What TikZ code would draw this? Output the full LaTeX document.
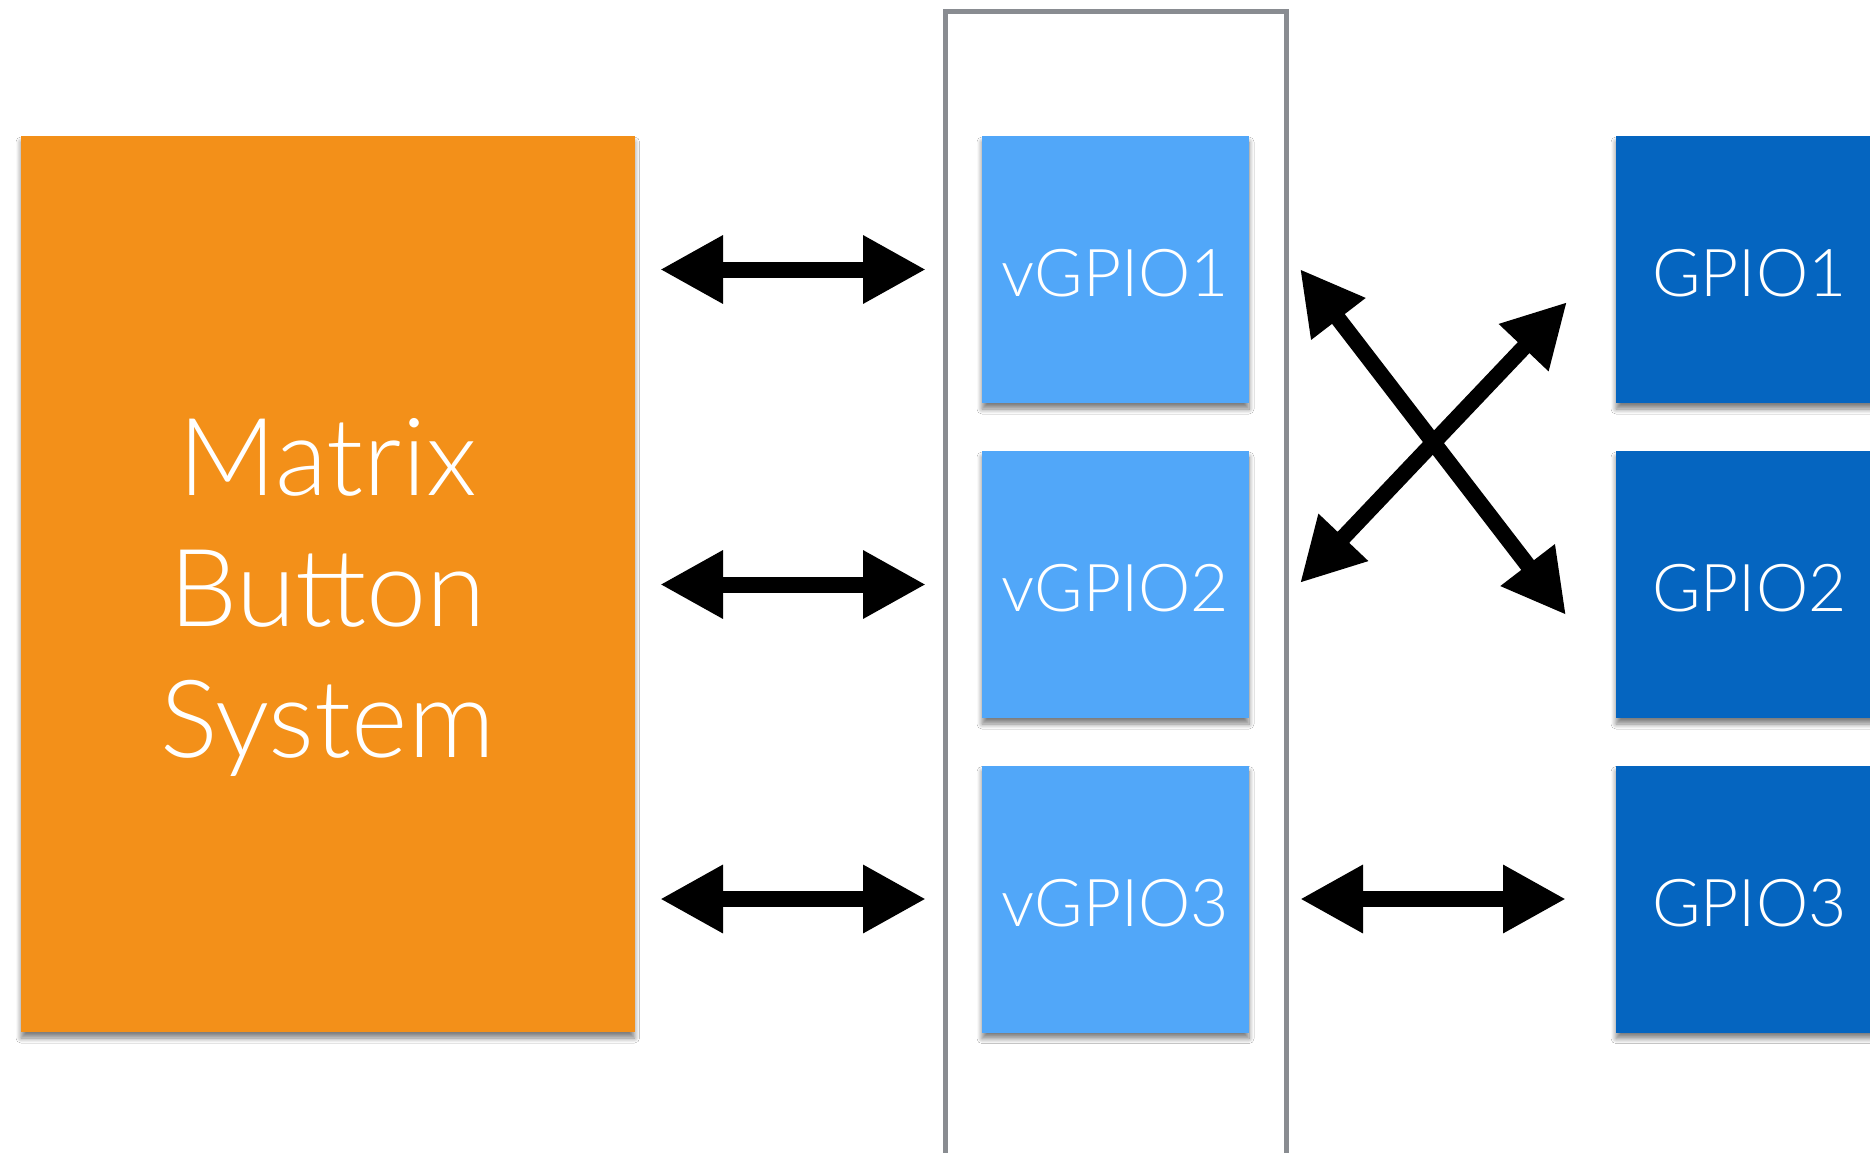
\documentclass[tikz,border=0pt]{standalone}
\usepackage{fontspec}
\IfFontExistsTF{Lato Light}{\setmainfont{Lato Light}}{\setmainfont{Liberation Sans}}
\usetikzlibrary{arrows.meta,shadows.blur}
\definecolor{orangebox}{HTML}{F39019}
\definecolor{lightblue}{HTML}{51A7F9}
\definecolor{darkblue}{HTML}{0565C0}
\definecolor{framegray}{HTML}{898C91}
\tikzset{
  boxshadow/.style={blur shadow={shadow xshift=0pt,shadow yshift=-6pt,shadow blur radius=5pt,shadow opacity=50,shadow blur steps=8}},
  vbox/.style={rectangle,fill=lightblue,minimum width=267pt,minimum height=267pt,inner sep=0pt,text=white,font=\fontsize{66}{70}\selectfont,boxshadow},
  gbox/.style={rectangle,fill=darkblue,minimum width=267pt,minimum height=267pt,inner sep=0pt,text=white,font=\fontsize{66}{70}\selectfont,boxshadow},
  mbox/.style={rectangle,fill=orangebox,minimum width=613.5pt,minimum height=896pt,inner sep=0pt,text=white,align=center,font=\fontsize{108}{131}\selectfont,boxshadow},
  boxlabel/.style={text=white,inner sep=0pt},
  dblarrow/.style={line width=16pt,{Triangle[length=63pt,width=64pt]}-{Triangle[length=63pt,width=64pt]}},
  framebox/.style={draw=framegray,line width=5pt}
}
\begin{document}
\begin{tikzpicture}[x=1pt,y=-1pt]
\useasboundingbox (0,0) rectangle (1870,1153);
\fill[white] (0,0) rectangle (1870,1153);
\draw[framebox] (945.5,12) rectangle (1286.5,1170);
\node[mbox] (mbs) at (327.75,584) {};
\node[boxlabel,align=center,font=\fontsize{108}{131}\selectfont] (mbst) at (327.75,597) {Matrix\\Button\\System};
\node[vbox] (v1) at (1115.5,269.5) {};
\node[vbox] (v2) at (1115.5,584.5) {};
\node[vbox] (v3) at (1115.5,899) {};
\node[gbox] (g1) at (1749.5,269.5) {};
\node[gbox] (g2) at (1749.5,584.5) {};
\node[gbox] (g3) at (1749.5,899) {};
\node[boxlabel,font=\fontsize{66}{70}\selectfont] (v1t) at ([yshift=-4pt]v1.center) {vGPIO1};
\node[boxlabel,font=\fontsize{66}{70}\selectfont] (v2t) at ([yshift=-4pt]v2.center) {vGPIO2};
\node[boxlabel,font=\fontsize{66}{70}\selectfont] (v3t) at ([yshift=-4pt]v3.center) {vGPIO3};
\node[boxlabel,font=\fontsize{66}{70}\selectfont] (g1t) at ([yshift=-4pt]g1.center) {GPIO1};
\node[boxlabel,font=\fontsize{66}{70}\selectfont] (g2t) at ([yshift=-4pt]g2.center) {GPIO2};
\node[boxlabel,font=\fontsize{66}{70}\selectfont] (g3t) at ([yshift=-4pt]g3.center) {GPIO3};
% arrow end points
\coordinate (l1a) at (660,269.5); \coordinate (l1b) at (926,269.5);
\coordinate (l2a) at (660,584.5); \coordinate (l2b) at (926,584.5);
\coordinate (l3a) at (660,899); \coordinate (l3b) at (926,899);
\coordinate (r3a) at (1300,899); \coordinate (r3b) at (1566,899);
\coordinate (xa1) at (1300,269); \coordinate (xa2) at (1566,615);
\coordinate (xb1) at (1567,302); \coordinate (xb2) at (1300,583);
\draw[dblarrow] (l1a) -- (l1b);
\draw[dblarrow] (l2a) -- (l2b);
\draw[dblarrow] (l3a) -- (l3b);
\draw[dblarrow] (r3a) -- (r3b);
\draw[dblarrow] (xa1) -- (xa2);
\draw[dblarrow] (xb1) -- (xb2);
\end{tikzpicture}
\end{document}
